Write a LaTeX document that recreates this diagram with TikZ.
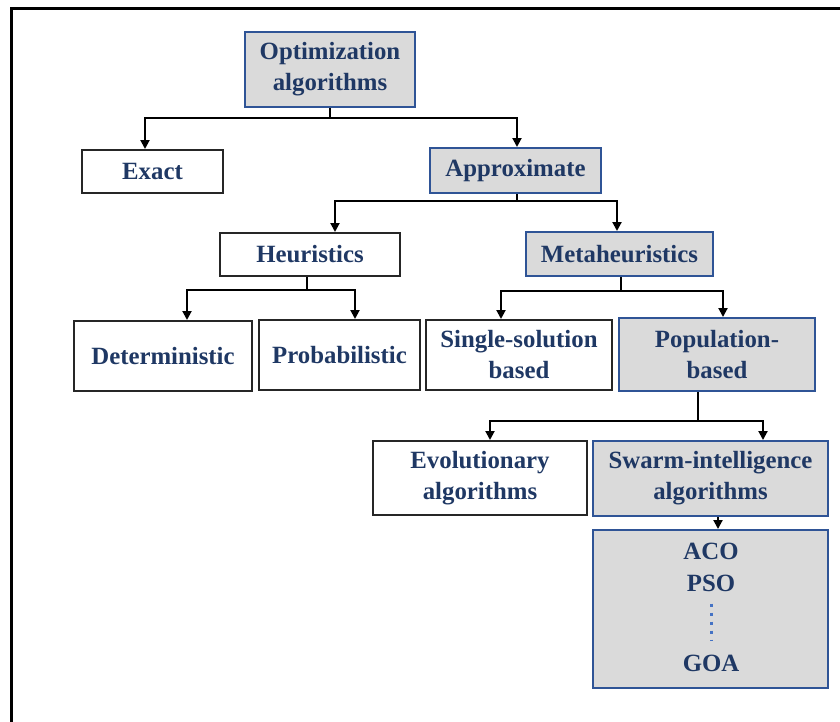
\documentclass[tikz,border=0pt]{standalone}
\usepackage{fontspec}
\setmainfont{Liberation Serif}
\usetikzlibrary{arrows.meta}
\definecolor{navy}{RGB}{31,56,100}
\definecolor{frameblue}{RGB}{47,84,150}
\definecolor{boxgray}{RGB}{218,218,218}
\definecolor{dotblue}{RGB}{68,114,196}
\begin{document}
\begin{tikzpicture}[
  x=0.5pt, y=-0.5pt,
  arrow/.style={-{Triangle[length=4.5pt, width=4.5pt]}, line width=1pt},
  whitebox/.style={draw=black!85, line width=1pt, fill=white, align=center,
    text=navy, font=\fontsize{12.4}{15.5}\selectfont\bfseries, inner sep=0pt},
  graybox/.style={whitebox, draw=frameblue, fill=boxgray},
  item/.style={text=navy, font=\fontsize{12.4}{15.5}\selectfont\bfseries, inner sep=0pt},
  dots/.style={dotblue, line width=1.5pt, dash pattern=on 1.5pt off 3pt}
]
  \useasboundingbox (0,0) rectangle (840,722);
  \draw[line width=1.5pt] (11,722) -- (11,9) -- (840,9);

  \node[graybox, minimum width=85pt, minimum height=37.5pt] (opt) at (330,69.5) {Optimization\\algorithms};
  \node[whitebox, minimum width=70.5pt, minimum height=21.5pt] (exact) at (152.5,171.5) {Exact};
  \node[graybox, minimum width=85.5pt, minimum height=22.5pt] (approx) at (515.5,170.5) {Approximate};
  \node[whitebox, minimum width=90pt, minimum height=21.5pt] (heur) at (310,254.5) {Heuristics};
  \node[graybox, minimum width=93.5pt, minimum height=22pt] (meta) at (619.5,254) {Metaheuristics};
  \node[whitebox, minimum width=89pt, minimum height=35pt] (det) at (163,356) {Deterministic};
  \node[whitebox, minimum width=80.5pt, minimum height=35pt] (prob) at (339.5,355) {Probabilistic};
  \node[whitebox, minimum width=93pt, minimum height=35pt] (single) at (519,355) {Single-solution\\based};
  \node[graybox, minimum width=98pt, minimum height=36.5pt] (pop) at (717,354.5) {Population-\\based};
  \node[whitebox, minimum width=107pt, minimum height=37pt] (evol) at (480,478) {Evolutionary\\algorithms};
  \node[graybox, minimum width=117.5pt, minimum height=37.5pt] (swarm) at (710.5,478.5) {Swarm-intelligence\\algorithms};
  \node[graybox, minimum width=117.5pt, minimum height=79pt] (list) at (710.5,609) {};

  % algorithm names inside the last box
  \node[item] (aco) at (711,551) {ACO};
  \node[item] (pso) at (711,583) {PSO};
  \node[item] (goa) at (711,663) {GOA};
  \draw[dots] ([yshift=-6pt]pso.south) -- ([yshift=7pt]goa.north);

  \draw[arrow] (opt.south) -- ++(0,10) -| ([xshift=-3.75pt]exact.north);
  \draw[arrow] (opt.south) -- ++(0,10) -| ([xshift=0.75pt]approx.north);
  \draw[arrow] ([xshift=0.75pt]approx.south) -- ++(0,7) -| ([xshift=12.5pt]heur.north);
  \draw[arrow] ([xshift=0.75pt]approx.south) -- ++(0,7) -| ([xshift=-1.25pt]meta.north);
  \draw[arrow] ([xshift=-1.5pt]heur.south) -- ++(0,13) -| ([xshift=12pt]det.north);
  \draw[arrow] ([xshift=-1.5pt]heur.south) -- ++(0,13) -| ([xshift=7.75pt]prob.north);
  \draw[arrow] ([xshift=0.75pt]meta.south) -- ++(0,14) -| ([xshift=-9pt]single.north);
  \draw[arrow] ([xshift=0.75pt]meta.south) -- ++(0,14) -| ([xshift=3pt]pop.north);
  \draw[arrow] ([xshift=-9.5pt]pop.south) -- ++(0,29) -| ([xshift=5pt]evol.north);
  \draw[arrow] ([xshift=-9.5pt]pop.south) -- ++(0,29) -| ([xshift=26.25pt]swarm.north);
  \draw[arrow] ([xshift=3.75pt]swarm.south) -- ([xshift=3.75pt]list.north);
\end{tikzpicture}
\end{document}
